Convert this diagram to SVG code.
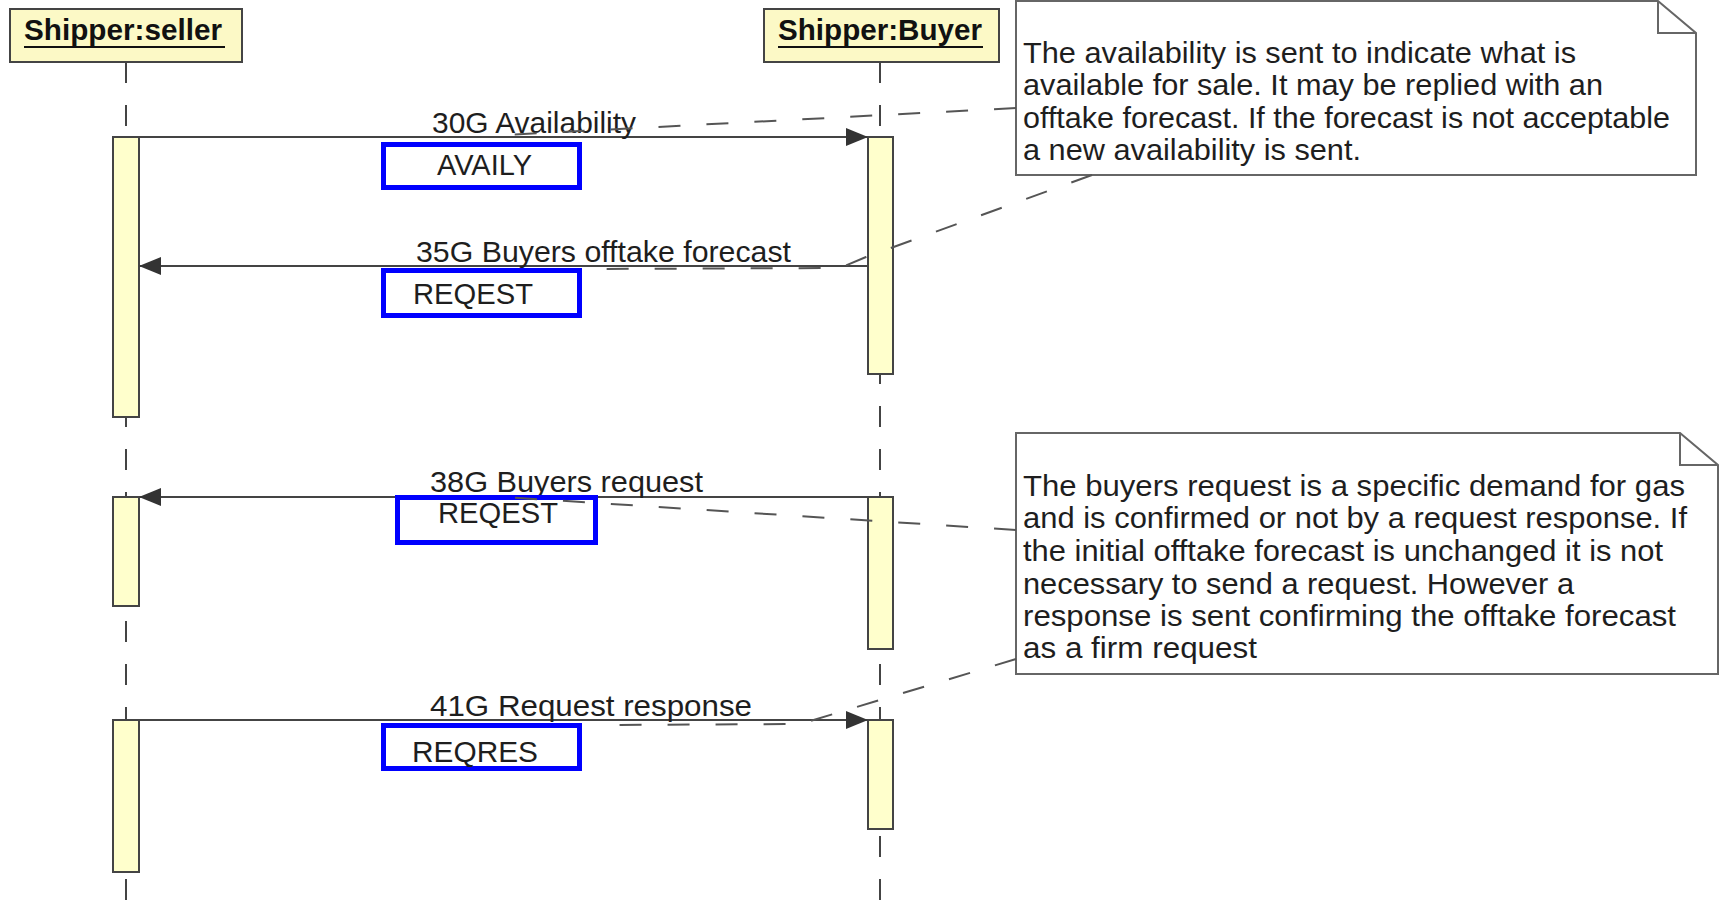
<svg xmlns="http://www.w3.org/2000/svg" width="1720" height="906" viewBox="0 0 1720 906">
<defs>
<style>
.hdr{fill:#fcf9c6;stroke:#444;stroke-width:2}
.bar{fill:#ffffcc;stroke:#444;stroke-width:2}
.life{stroke:#444;stroke-width:2;stroke-dasharray:21 22;fill:none}
.msg{stroke:#444;stroke-width:2;fill:none}
.conn{stroke:#555;stroke-width:2;stroke-dasharray:22 26;fill:none}
.note{fill:#fff;stroke:#666;stroke-width:2}
.blue{fill:none;stroke:#0000ff;stroke-width:5}
.t{font-family:"Liberation Sans",Arial,sans-serif;font-size:30px;fill:#1e1e1e}
.tb{font-family:"Liberation Sans",Arial,sans-serif;font-size:29px;font-weight:bold;fill:#111}
.tx{font-family:"Liberation Sans",Arial,sans-serif;font-size:29px;fill:#1e1e1e}
</style>
<marker id="ah" markerWidth="22" markerHeight="18" refX="22" refY="9" orient="auto" markerUnits="userSpaceOnUse">
<path d="M0,0 L22,9 L0,18 Z" fill="#333"/>
</marker>
</defs>
<rect width="1720" height="906" fill="#fff"/>

<g id="lifelines">
<line class="life" x1="126" y1="62" x2="126" y2="906"/>
<line class="life" x1="880" y1="62" x2="880" y2="906"/>
</g>

<g id="seller">
<rect class="hdr" x="10" y="9" width="232" height="53"/>
<text class="tb" x="24" y="40" textLength="198" lengthAdjust="spacingAndGlyphs">Shipper:seller</text>
<line x1="24" y1="47" x2="225" y2="47" stroke="#111" stroke-width="2"/>
</g>
<g id="buyer">
<rect class="hdr" x="764" y="9" width="235" height="53"/>
<text class="tb" x="778" y="40" textLength="204" lengthAdjust="spacingAndGlyphs">Shipper:Buyer</text>
<line x1="778" y1="47" x2="983" y2="47" stroke="#111" stroke-width="2"/>
</g>

<g id="activations">
<rect class="bar" x="113" y="137" width="26" height="280"/>
<rect class="bar" x="113" y="497" width="26" height="109"/>
<rect class="bar" x="113" y="720" width="26" height="152"/>
<rect class="bar" x="868" y="137" width="25" height="237"/>
<rect class="bar" x="868" y="497" width="25" height="152"/>
<rect class="bar" x="868" y="720" width="25" height="109"/>
</g>

<g id="messages">
<line class="msg" x1="139" y1="137" x2="868" y2="137" marker-end="url(#ah)"/>
<line class="msg" x1="868" y1="266" x2="139" y2="266" marker-end="url(#ah)"/>
<line class="msg" x1="868" y1="497" x2="139" y2="497" marker-end="url(#ah)"/>
<line class="msg" x1="139" y1="720" x2="868" y2="720" marker-end="url(#ah)"/>
<text class="t" x="432" y="133" textLength="204" lengthAdjust="spacingAndGlyphs">30G Availability</text>
<text class="t" x="416" y="262" textLength="375" lengthAdjust="spacingAndGlyphs">35G Buyers offtake forecast</text>
<text class="t" x="430" y="492" textLength="273" lengthAdjust="spacingAndGlyphs">38G Buyers request</text>
<text class="t" x="430" y="716" textLength="322" lengthAdjust="spacingAndGlyphs">41G Request response</text>
</g>

<g id="codes">
<rect class="blue" x="383.5" y="144.5" width="196" height="43"/>
<text class="tx" x="437" y="175" textLength="95" lengthAdjust="spacingAndGlyphs">AVAILY</text>
<rect class="blue" x="383.5" y="270.5" width="196" height="45"/>
<text class="tx" x="413" y="304" textLength="120" lengthAdjust="spacingAndGlyphs">REQEST</text>
<rect class="blue" x="397.5" y="497.5" width="198" height="45"/>
<text class="tx" x="438" y="523" textLength="120" lengthAdjust="spacingAndGlyphs">REQEST</text>
<rect class="blue" x="383.5" y="725.5" width="196" height="43"/>
<text class="tx" x="412" y="762" textLength="126" lengthAdjust="spacingAndGlyphs">REQRES</text>
</g>

<g id="note1">
<path class="note" d="M1016,1 L1658,1 L1696,33 L1696,175 L1016,175 Z"/>
<path d="M1658,1 L1658,33 L1696,33" fill="none" stroke="#666" stroke-width="2"/>
<text class="t" x="1023" y="63" textLength="553" lengthAdjust="spacingAndGlyphs">The availability is sent to indicate what is</text>
<text class="t" x="1023" y="95" textLength="580" lengthAdjust="spacingAndGlyphs">available for sale. It may be replied with an</text>
<text class="t" x="1023" y="128" textLength="647" lengthAdjust="spacingAndGlyphs">offtake forecast. If the forecast is not acceptable</text>
<text class="t" x="1023" y="160" textLength="338" lengthAdjust="spacingAndGlyphs">a new availability is sent.</text>
</g>

<g id="note2">
<path class="note" d="M1016,433 L1680,433 L1718,465 L1718,674 L1016,674 Z"/>
<path d="M1680,433 L1680,465 L1718,465" fill="none" stroke="#666" stroke-width="2"/>
<text class="t" x="1023" y="496" textLength="662" lengthAdjust="spacingAndGlyphs">The buyers request is a specific demand for gas</text>
<text class="t" x="1023" y="528" textLength="664" lengthAdjust="spacingAndGlyphs">and is confirmed or not by a request response. If</text>
<text class="t" x="1023" y="561" textLength="640" lengthAdjust="spacingAndGlyphs">the initial offtake forecast is unchanged it is not</text>
<text class="t" x="1023" y="594" textLength="551" lengthAdjust="spacingAndGlyphs">necessary to send a request. However a</text>
<text class="t" x="1023" y="626" textLength="653" lengthAdjust="spacingAndGlyphs">response is sent confirming the offtake forecast</text>
<text class="t" x="1023" y="658" textLength="234" lengthAdjust="spacingAndGlyphs">as a firm request</text>
</g>

<g id="connectors">
<line class="conn" x1="1016" y1="108" x2="505" y2="135"/>
<polyline class="conn" points="1092,175 866,257 840,268 598,269"/>
<line class="conn" x1="1016" y1="530" x2="503" y2="497"/>
<polyline class="conn" points="1016,659 840,712 800,724 600,725"/>
</g>
</svg>
